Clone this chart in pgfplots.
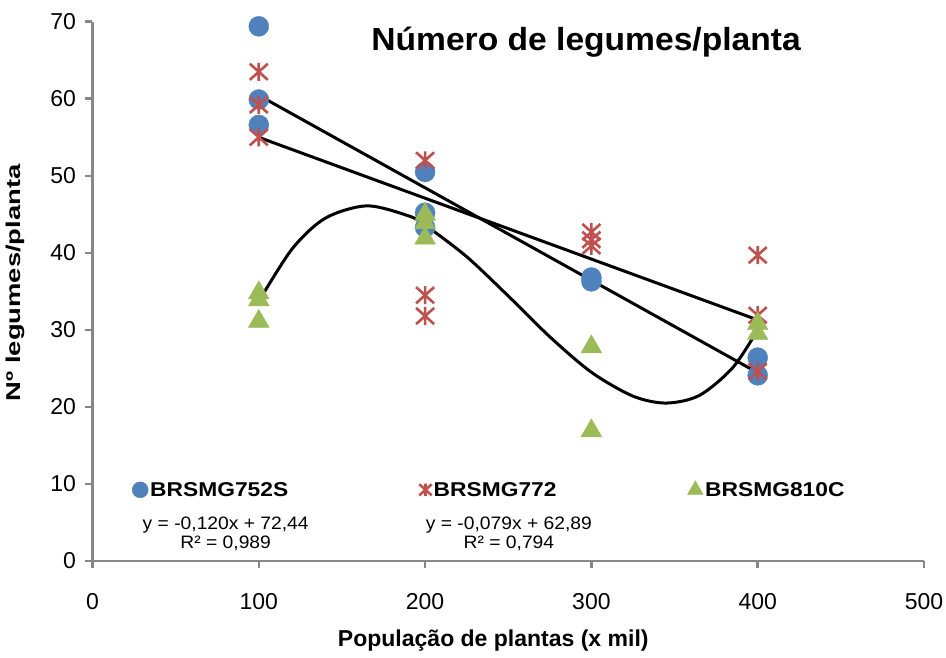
\documentclass[border=0pt]{standalone}
\usepackage{pgfplots}
\pgfplotsset{compat=1.18}
\usepackage{fontspec}
\setmainfont{Liberation Sans}
\newfontfamily\titlefont[FakeStretch=1.05]{Liberation Sans}
\newfontfamily\legfont[FakeStretch=1.14]{Liberation Sans}
\newfontfamily\eqfont[FakeStretch=1.07]{Liberation Sans}
\newfontfamily\ylabfont[FakeStretch=1.37]{Liberation Sans}
\definecolor{cblue}{HTML}{4F81BD}
\definecolor{cred}{HTML}{C0504D}
\definecolor{cgreen}{HTML}{9BBB59}
\definecolor{axgray}{HTML}{878787}
\pgfdeclareplotmark{xstar}{%
  \pgfpathmoveto{\pgfqpoint{-0.95\pgfplotmarksize}{-0.85\pgfplotmarksize}}%
  \pgfpathlineto{\pgfqpoint{0.95\pgfplotmarksize}{0.85\pgfplotmarksize}}%
  \pgfpathmoveto{\pgfqpoint{-0.95\pgfplotmarksize}{0.85\pgfplotmarksize}}%
  \pgfpathlineto{\pgfqpoint{0.95\pgfplotmarksize}{-0.85\pgfplotmarksize}}%
  \pgfpathmoveto{\pgfqpoint{0pt}{-0.95\pgfplotmarksize}}%
  \pgfpathlineto{\pgfqpoint{0pt}{0.95\pgfplotmarksize}}%
  \pgfusepathqstroke}
\begin{document}
\begin{tikzpicture}
\begin{axis}[
  scale only axis, width=831.5pt, height=539.3pt,
  xmin=0, xmax=500, ymin=0, ymax=70,
  xtick={0,100,...,500}, ytick={0,10,...,70},
  axis x line*=bottom, axis y line*=left,
  axis line style={-, draw=axgray, line width=2.5pt},
  tick style={draw=axgray, line width=2.5pt},
  tick align=outside, major tick length=7pt,
  ticklabel style={font=\fontsize{23}{23}\selectfont},
  /pgf/number format/assume math mode=true,
  xticklabel style={yshift=-22pt},
  yticklabel style={xshift=-6pt},
  clip=false,
  legend columns=3,
  legend style={draw=none, fill=none, at={(rel axis cs:0.0475,0.132)}, anchor=west,
    font=\fontsize{20}{20}\selectfont\legfont\bfseries, /tikz/every even column/.append style={column sep=129pt},
    inner sep=0pt},
  legend cell align=left,
]
% BRSMG752S
\addplot[only marks, mark=*, mark size=10pt, color=cblue, mark options={draw=cblue, fill=cblue},
  legend image post style={mark size=8pt}] coordinates {
 (100,69.4) (100,59.9) (100,56.6)
 (200,50.5) (200,45.2) (200,43.3)
 (300,36.8) (300,36.3)
 (400,26.4) (400,24.1)
};
\addlegendentry{BRSMG752S}
% BRSMG772
\addplot[only marks, mark=xstar, mark size=9.5pt, color=cred, mark options={draw=cred, line width=2.6pt},
  legend image post style={mark size=6.5pt}] coordinates {
 (100,63.5) (100,59.2) (100,55.0)
 (200,52.0) (200,34.5) (200,31.8)
 (300,42.7) (300,41.7) (300,40.9)
 (400,39.7) (400,31.9) (400,24.6)
};
\addlegendentry{BRSMG772}
% BRSMG810C
\addplot[only marks, mark=triangle*, mark size=12pt, color=cgreen, mark options={draw=cgreen, fill=cgreen},
  legend image post style={mark size=9pt}] coordinates {
 (100,34.8) (100,33.9) (100,31.1)
 (200,45.0) (200,43.9) (200,41.9)
 (300,27.8) (300,16.9)
 (400,30.8) (400,29.5)
};
\addlegendentry{BRSMG810C}
% trend lines
\addplot[black, line width=3pt, forget plot] coordinates {(100,60.44) (400,24.44)};
\addplot[black, line width=3pt, forget plot] coordinates {(100,54.99) (400,31.29)};
\addplot[black, line width=3pt, smooth, forget plot] coordinates {
 (100,33.7) (120,40.5) (140,44.5) (165,46.1) (190,44.8) (200,43.6) (225,39.5)
 (250,34.4) (275,29.1) (300,24.5) (325,21.4) (345,20.5) (365,21.5) (385,25.1) (400,30.0)
};
% texts
\node[font=\fontsize{32}{32}\selectfont\titlefont\bfseries] at (axis cs:296.8,67.4) {Número de legumes/planta};
\node[font=\fontsize{18}{18}\selectfont\eqfont] at (axis cs:80.1,4.67) {y = -0,120x + 72,44};
\node[font=\fontsize{18}{18}\selectfont\eqfont] at (axis cs:80.1,2.34) {R² = 0,989};
\node[font=\fontsize{18}{18}\selectfont\eqfont] at (axis cs:250.4,4.67) {y = -0,079x + 62,89};
\node[font=\fontsize{18}{18}\selectfont\eqfont] at (axis cs:250.4,2.34) {R² = 0,794};
\path (rel axis cs:0.482,0) ++(0,-80pt) node[font=\fontsize{23}{23}\selectfont\bfseries] {População de plantas (x mil)};
\path (rel axis cs:0,0.516) ++(-77pt,0) node[font=\fontsize{20}{20}\selectfont\ylabfont\bfseries, rotate=90] {Nº legumes/planta};
\end{axis}
\pgfresetboundingbox
\path[use as bounding box] (-92.5pt,-96pt) rectangle (853.5pt,561pt);
\end{tikzpicture}
\end{document}
